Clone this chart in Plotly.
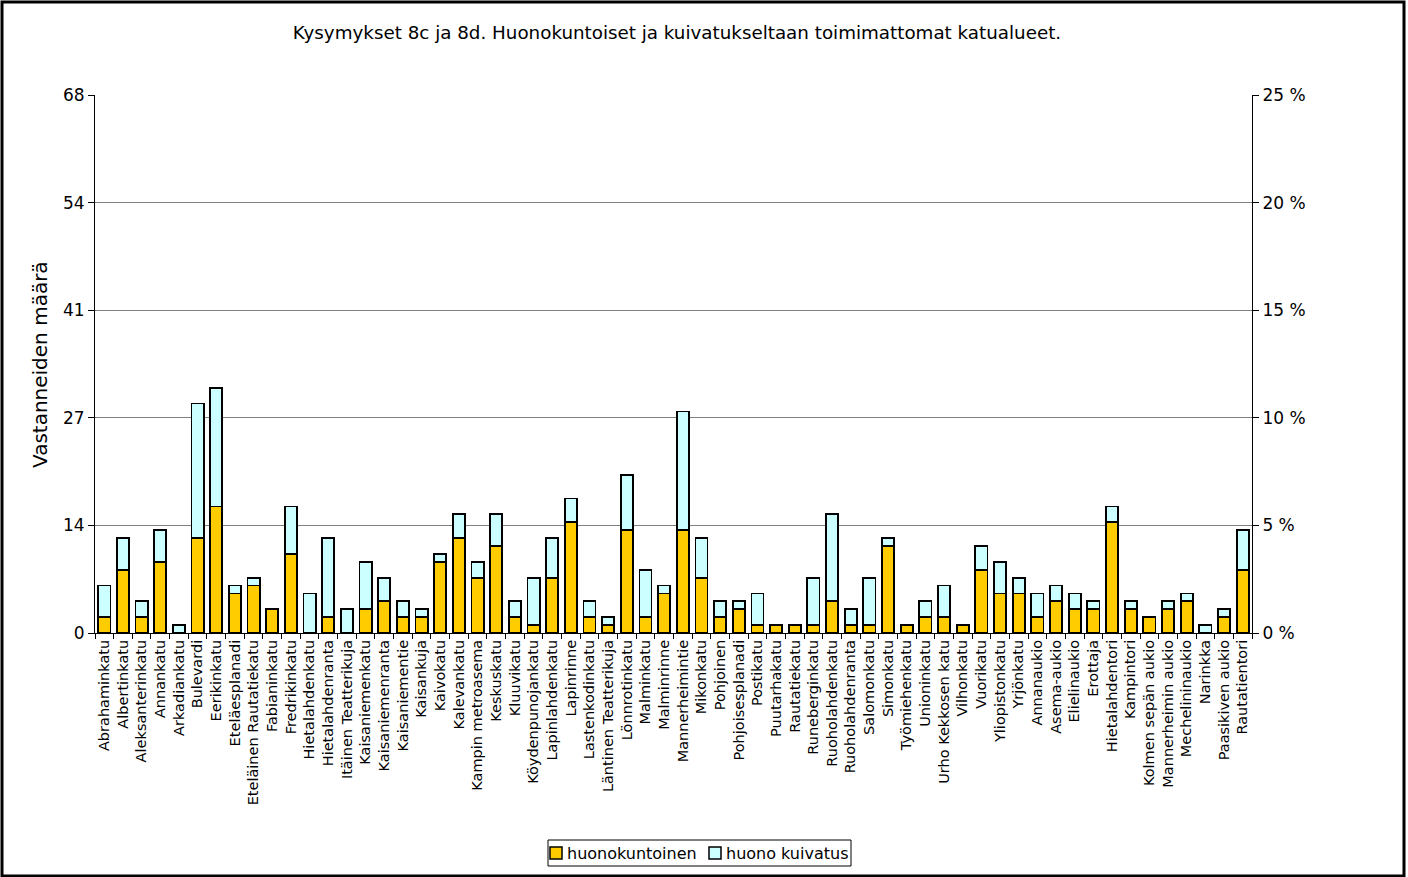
import plotly.graph_objects as go

categories = [
    "Abrahaminkatu", "Albertinkatu", "Aleksanterinkatu", "Annankatu", "Arkadiankatu",
    "Bulevardi", "Eerikinkatu", "Eteläesplanadi", "Eteläinen Rautatiekatu", "Fabianinkatu",
    "Fredrikinkatu", "Hietalahdenkatu", "Hietalahdenranta", "Itäinen Teatterikuja",
    "Kaisaniemenkatu", "Kaisaniemenranta", "Kaisaniementie", "Kaisankuja", "Kaivokatu",
    "Kalevankatu", "Kampin metroasema", "Keskuskatu", "Kluuvikatu", "Köydenpunojankatu",
    "Lapinlahdenkatu", "Lapinrinne", "Lastenkodinkatu", "Läntinen Teatterikuja",
    "Lönnrotinkatu", "Malminkatu", "Malminrinne", "Mannerheimintie", "Mikonkatu",
    "Pohjoinen", "Pohjoisesplanadi", "Postikatu", "Puutarhakatu", "Rautatiekatu",
    "Runeberginkatu", "Ruoholahdenkatu", "Ruoholahdenranta", "Salomonkatu", "Simonkatu",
    "Työmiehenkatu", "Unioninkatu", "Urho Kekkosen katu", "Vilhonkatu", "Vuorikatu",
    "Yliopistonkatu", "Yrjönkatu", "Annanaukio", "Asema-aukio", "Elielinaukio",
    "Erottaja", "Hietalahdentori", "Kampintori", "Kolmen sepän aukio",
    "Mannerheimin aukio", "Mechelininaukio", "Narinkka", "Paasikiven aukio", "Rautatientori",
]

huonokuntoinen = [
    2, 8, 2, 9, 0, 12, 16, 5, 6, 3, 10, 0, 2, 0, 3, 4, 2, 2, 9, 12, 7, 11, 2, 1,
    7, 14, 2, 1, 13, 2, 5, 13, 7, 2, 3, 1, 1, 1, 1, 4, 1, 1, 11, 1, 2, 2, 1, 8,
    5, 5, 2, 4, 3, 3, 14, 3, 2, 3, 4, 0, 2, 8,
]

huono_kuivatus = [
    4, 4, 2, 4, 1, 17, 15, 1, 1, 0, 6, 5, 10, 3, 6, 3, 2, 1, 1, 3, 2, 4, 2, 6,
    5, 3, 2, 1, 7, 6, 1, 15, 5, 2, 1, 4, 0, 0, 6, 11, 2, 6, 1, 0, 2, 4, 0, 3,
    4, 2, 3, 2, 2, 1, 2, 1, 0, 1, 1, 1, 1, 5,
]

series_names = ["huonokuntoinen", "huono kuivatus"]
series_colors = ["#FFCC00", "#CCFFFF"]

left_tickvals = [0, 13.6, 27.2, 40.8, 54.4, 68]
left_ticktext = ["0", "14", "27", "41", "54", "68"]
right_tickvals = [0, 5, 10, 15, 20, 25]
right_ticktext = ["0 %", "5 %", "10 %", "15 %", "20 %", "25 %"]

FONT = "DejaVu Sans"

fig = go.Figure()
for name, vals, col in zip(series_names, [huonokuntoinen, huono_kuivatus], series_colors):
    fig.add_trace(go.Bar(
        x=categories, y=vals, name=name, showlegend=False,
        marker=dict(color=col, line=dict(color="black", width=1.8)),
    ))
# invisible trace to anchor the percent axis
fig.add_trace(go.Scatter(
    x=[categories[0]], y=[0], yaxis="y2", mode="lines",
    line=dict(width=0), showlegend=False, hoverinfo="skip",
))

W, H = 1408, 877
L, R, T, B = 95, 1252, 95, 633
pw, ph = R - L, B - T

def px(xp):
    return (xp - L) / pw

def py(yp):
    return (B - yp) / ph

shapes = [
    dict(type="rect", xref="paper", yref="paper",
         x0=px(2), x1=px(1404), y0=py(876), y1=py(2),
         line=dict(color="black", width=3), fillcolor="rgba(0,0,0,0)", layer="above"),
    dict(type="rect", xref="paper", yref="paper",
         x0=px(548), x1=px(851), y0=py(866), y1=py(840),
         line=dict(color="black", width=1), fillcolor="white", layer="above"),
]
annotations = [dict(
    text="Vastanneiden määrä", textangle=-90,
    x=px(40), y=py(365), xref="paper", yref="paper", xanchor="center", yanchor="middle",
    showarrow=False, font=dict(family=FONT, size=20, color="black"),
)]
legend_sw_x = [550, 709]
for name, col, sx in zip(series_names, series_colors, legend_sw_x):
    shapes.append(dict(type="rect", xref="paper", yref="paper",
                       x0=px(sx), x1=px(sx + 12), y0=py(859), y1=py(847),
                       line=dict(color="black", width=1.5), fillcolor=col, layer="above"))
    annotations.append(dict(text=name, x=px(sx + 15), y=py(853), xref="paper", yref="paper",
                            xanchor="left", yanchor="middle", showarrow=False,
                            font=dict(family=FONT, size=16, color="black")))

fig.update_layout(
    width=W, height=H,
    barmode="stack", bargap=0.35,
    plot_bgcolor="white", paper_bgcolor="white",
    margin=dict(l=L, r=W - R, t=T, b=H - B, pad=0),
    font=dict(family=FONT, size=14, color="black"),
    showlegend=False,
    title=dict(
        text="Kysymykset 8c ja 8d. Huonokuntoiset ja kuivatukseltaan toimimattomat katualueet.",
        x=px(677), xref="paper", xanchor="center",
        y=1 - 33 / H, yref="container", yanchor="middle",
        font=dict(family=FONT, size=18.3, color="black"),
    ),
    xaxis=dict(
        type="category", range=[-0.5, len(categories) - 0.5],
        tickangle=-90, tickson="boundaries",
        ticks="outside", ticklen=5, tickcolor="black",
        showline=True, linecolor="black", linewidth=1,
        showgrid=False, tickfont=dict(family=FONT, size=14.5),
    ),
    yaxis=dict(
        range=[0, 68], tickvals=left_tickvals, ticktext=left_ticktext,
        ticks="outside", ticklen=6, tickcolor="black",
        showline=True, linecolor="black", linewidth=1,
        showgrid=True, gridcolor="#808080", gridwidth=1,
        zeroline=False, tickfont=dict(family=FONT, size=17),
    ),
    yaxis2=dict(
        range=[0, 25], tickvals=right_tickvals, ticktext=right_ticktext,
        overlaying="y", side="right",
        ticks="outside", ticklen=6, tickcolor="black",
        showline=True, linecolor="black", linewidth=1,
        showgrid=False, zeroline=False, tickfont=dict(family=FONT, size=17),
    ),
    annotations=annotations,
    shapes=shapes,
)

fig.write_html("out.html", config={"displayModeBar": False},
               post_script="document.body.style.margin='0';")
